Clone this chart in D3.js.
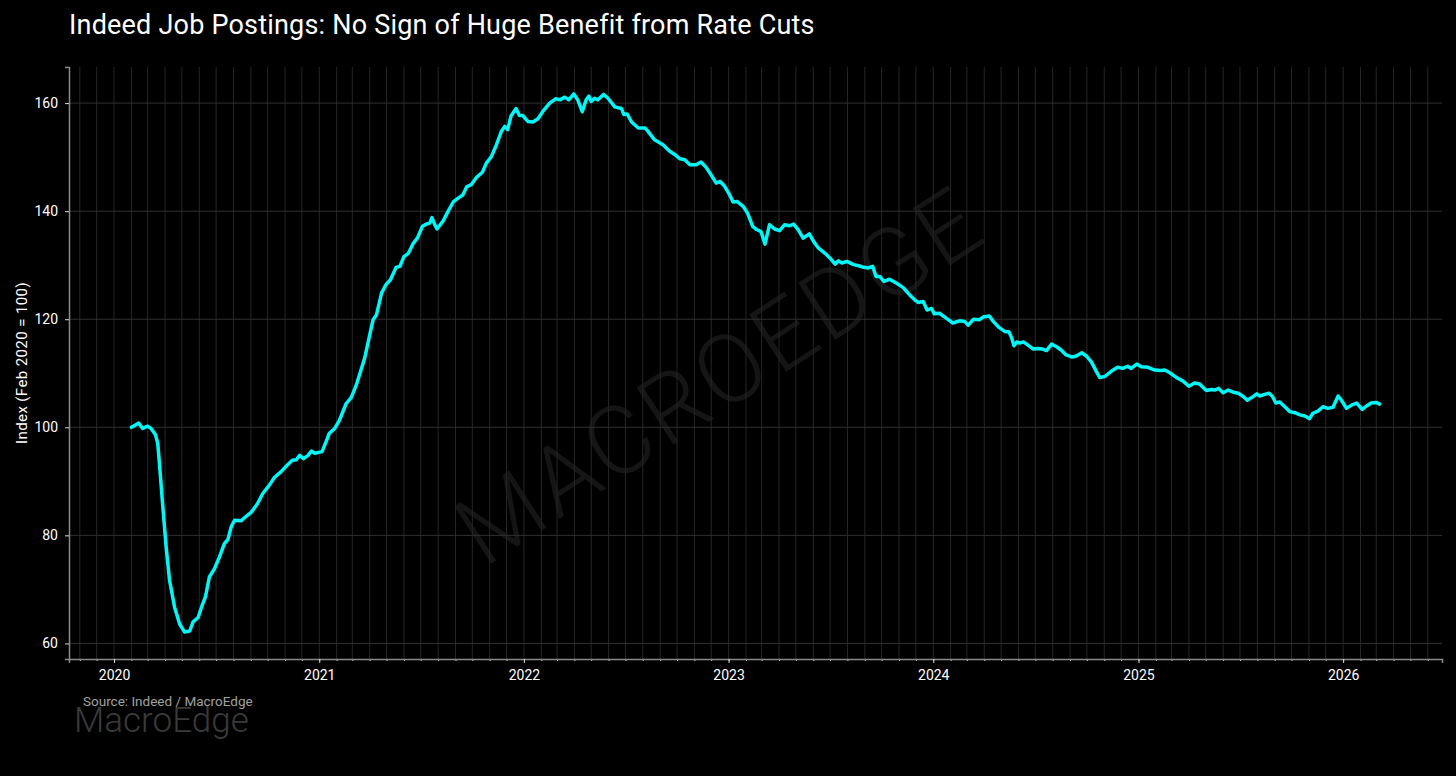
<!DOCTYPE html>
<html>
<head>
<meta charset="utf-8">
<script src="https://cdn.jsdelivr.net/npm/d3@7"></script>
<style>
  body { margin: 0; background: #000; }
  svg { display: block; }
  text { font-family: Roboto, "Open Sans", sans-serif; }
</style>
</head>
<body>
<div id="chart"></div>
<script>
// Indeed job postings index (Feb 2020 = 100)
const dates2020 = ["2020-02-01","2020-02-08","2020-02-14","2020-02-21","2020-03-01","2020-03-07","2020-03-15","2020-03-19","2020-03-22","2020-03-28","2020-04-03","2020-04-09","2020-04-18","2020-04-27","2020-05-06","2020-05-15","2020-05-21","2020-05-30","2020-06-05","2020-06-12","2020-06-19","2020-06-28","2020-07-07","2020-07-16","2020-07-22","2020-07-28","2020-08-03","2020-08-15","2020-08-21","2020-09-02","2020-09-13","2020-09-22","2020-10-04","2020-10-13","2020-10-25","2020-11-03","2020-11-14","2020-11-21","2020-11-27","2020-12-04","2020-12-12","2020-12-18","2020-12-24"];
const index2020 = [100.0,100.4,100.8,99.8,100.2,99.8,98.6,97.0,93.3,85.3,77.8,71.7,66.7,63.6,62.1,62.3,64.0,64.8,66.7,68.6,72.3,73.8,76.0,78.5,79.2,81.6,82.8,82.7,83.3,84.3,85.9,87.7,89.3,90.7,91.8,92.8,93.9,94.0,94.8,94.2,94.8,95.6,95.2];

const dates2021 = ["2021-01-06","2021-01-13","2021-01-19","2021-01-28","2021-02-06","2021-02-18","2021-02-27","2021-03-08","2021-03-23","2021-04-01","2021-04-07","2021-04-13","2021-04-22","2021-04-30","2021-05-08","2021-05-18","2021-05-25","2021-06-01","2021-06-09","2021-06-18","2021-06-25","2021-07-04","2021-07-11","2021-07-17","2021-07-21","2021-07-26","2021-07-30","2021-08-10","2021-08-19","2021-08-28","2021-09-07","2021-09-14","2021-09-21","2021-09-29","2021-10-08","2021-10-19","2021-10-26","2021-11-04","2021-11-13","2021-11-22","2021-11-28","2021-12-03","2021-12-09","2021-12-18","2021-12-24","2021-12-30"];
const index2021 = [95.5,97.3,98.9,99.7,101.3,104.4,105.5,107.8,112.8,117.1,119.9,120.8,124.8,126.4,127.3,129.6,129.8,131.6,132.2,134.1,135.0,137.2,137.6,137.8,138.8,137.5,136.7,138.2,140.0,141.7,142.5,143.0,144.5,144.9,146.2,147.2,148.9,150.1,152.3,154.8,155.7,155.1,157.6,159.0,157.7,157.7];

const dates2022 = ["2022-01-08","2022-01-17","2022-01-26","2022-02-04","2022-02-16","2022-02-27","2022-03-06","2022-03-15","2022-03-22","2022-03-31","2022-04-07","2022-04-15","2022-04-22","2022-04-27","2022-05-01","2022-05-07","2022-05-13","2022-05-23","2022-05-31","2022-06-12","2022-06-24","2022-06-28","2022-07-04","2022-07-12","2022-07-24","2022-08-05","2022-08-10","2022-08-22","2022-09-06","2022-09-18","2022-09-27","2022-10-06","2022-10-15","2022-10-24","2022-11-04","2022-11-13","2022-11-22","2022-12-01","2022-12-10","2022-12-17","2022-12-25"];
const index2022 = [156.6,156.5,157.1,158.5,160.0,160.8,160.6,161.1,160.6,161.7,160.6,158.4,160.6,161.3,160.3,160.9,160.6,161.6,160.9,159.3,159.0,157.9,158.0,156.5,155.4,155.4,154.8,153.2,152.3,151.1,150.5,149.7,149.5,148.6,148.6,149.1,148.1,146.7,145.2,145.5,144.6];

const dates2023 = ["2023-01-03","2023-01-09","2023-01-16","2023-01-27","2023-02-04","2023-02-13","2023-02-20","2023-02-28","2023-03-07","2023-03-15","2023-03-24","2023-04-02","2023-04-11","2023-04-20","2023-04-27","2023-05-05","2023-05-14","2023-05-25","2023-06-01","2023-06-10","2023-06-22","2023-07-01","2023-07-10","2023-07-16","2023-07-22","2023-07-31","2023-08-12","2023-08-21","2023-08-30","2023-09-07","2023-09-15","2023-09-21","2023-09-28","2023-10-05","2023-10-15","2023-10-27","2023-11-08","2023-11-20","2023-11-29","2023-12-05","2023-12-14","2023-12-21","2023-12-29"];
const index2023 = [143.0,141.7,141.8,140.9,139.6,137.2,136.6,136.2,133.9,137.5,136.7,136.4,137.5,137.3,137.6,136.6,135.0,135.8,134.5,133.2,132.2,131.3,130.2,130.8,130.4,130.7,130.1,129.9,129.6,129.5,129.8,127.9,127.9,127.0,127.4,126.7,125.9,124.5,123.6,123.1,123.3,121.7,122.0];

const dates2024 = ["2024-01-03","2024-01-12","2024-01-24","2024-02-05","2024-02-17","2024-02-26","2024-03-03","2024-03-13","2024-03-23","2024-03-30","2024-04-10","2024-04-17","2024-04-26","2024-05-08","2024-05-15","2024-05-20","2024-05-24","2024-05-29","2024-06-03","2024-06-10","2024-06-18","2024-06-27","2024-07-06","2024-07-13","2024-07-21","2024-07-30","2024-08-08","2024-08-16","2024-08-25","2024-09-05","2024-09-12","2024-09-22","2024-09-30","2024-10-09","2024-10-18","2024-10-24","2024-11-02","2024-11-14","2024-11-25","2024-12-04","2024-12-13","2024-12-19","2024-12-29"];
const index2024 = [121.0,121.1,120.2,119.3,119.7,119.6,118.9,120.0,119.9,120.4,120.6,119.6,118.6,117.7,117.7,116.5,115.1,115.8,115.6,115.8,115.2,114.5,114.6,114.5,114.2,115.4,114.9,114.3,113.4,113.0,113.2,113.8,113.2,112.1,110.3,109.2,109.4,110.4,111.1,110.9,111.3,110.9,111.7];

const dates2025 = ["2025-01-06","2025-01-18","2025-01-30","2025-02-11","2025-02-17","2025-02-26","2025-03-10","2025-03-21","2025-04-01","2025-04-11","2025-04-20","2025-05-02","2025-05-11","2025-05-17","2025-05-24","2025-06-01","2025-06-10","2025-06-19","2025-06-28","2025-07-07","2025-07-14","2025-07-22","2025-07-31","2025-08-05","2025-08-14","2025-08-22","2025-08-28","2025-09-03","2025-09-10","2025-09-19","2025-09-28","2025-10-07","2025-10-16","2025-10-25","2025-11-02","2025-11-08","2025-11-17","2025-11-26","2025-12-05","2025-12-14","2025-12-23","2025-12-29"];
const index2025 = [111.2,111.1,110.6,110.5,110.6,110.1,109.2,108.6,107.6,108.2,108.0,106.8,107.0,106.9,107.2,106.4,106.9,106.5,106.3,105.7,105.0,105.5,106.2,105.8,106.1,106.3,105.7,104.5,104.7,103.8,102.9,102.7,102.3,102.1,101.6,102.6,103.0,103.8,103.5,103.7,105.8,105.0];

const dates2026 = ["2026-01-07","2026-01-16","2026-01-25","2026-02-04","2026-02-11","2026-02-20","2026-03-01","2026-03-07"];
const index2026 = [103.5,104.1,104.5,103.3,103.9,104.5,104.6,104.3];

const yTicks = [60, 80, 100, 120, 140, 160];

const title = "Indeed Job Postings: No Sign of Huge Benefit from Rate Cuts";
const yLabel = "Index (Feb 2020 = 100)";
const source = "Source: Indeed / MacroEdge";

const allDates = [].concat(dates2020, dates2021, dates2022, dates2023, dates2024, dates2025, dates2026);
const allValues = [].concat(index2020, index2021, index2022, index2023, index2024, index2025, index2026);
const parse = d3.utcParse("%Y-%m-%d");
const data = allDates.map((d, i) => ({ date: parse(d), value: allValues[i] }));

const width = 1456, height = 776;
const margin = { top: 67, right: 14, bottom: 117, left: 69 };

const svg = d3.select("#chart").append("svg")
  .attr("width", width)
  .attr("height", height)
  .style("background", "#000");

// matplotlib-style 5% padding on both axes
const [x0, x1] = d3.extent(data, d => d.date);
const xPad = (x1 - x0) * 0.05;
const x = d3.scaleUtc()
  .domain([new Date(+x0 - xPad), new Date(+x1 + xPad)])
  .range([margin.left, width - margin.right]);

const [y0, y1] = d3.extent(data, d => d.value);
const yPad = (y1 - y0) * 0.05;
const y = d3.scaleLinear()
  .domain([y0 - yPad, y1 + yPad])
  .range([height - margin.bottom, margin.top]);

const plotBottom = height - margin.bottom;

// watermark
svg.append("text")
  .attr("transform", "translate(724,382) rotate(-33)")
  .attr("text-anchor", "middle")
  .attr("dominant-baseline", "middle")
  .attr("font-size", 96)
  .attr("font-weight", 300)
  .attr("letter-spacing", 4)
  .attr("fill", "#151515")
  .text("MACROEDGE");

// grid
const months = x.ticks(d3.utcMonth.every(1));
svg.append("g")
  .selectAll("line")
  .data(months)
  .join("line")
  .attr("x1", d => x(d)).attr("x2", d => x(d))
  .attr("y1", margin.top).attr("y2", plotBottom)
  .attr("stroke", "#262626")
  .attr("stroke-width", 1);

svg.append("g")
  .selectAll("line")
  .data(yTicks)
  .join("line")
  .attr("x1", margin.left).attr("x2", width - margin.right)
  .attr("y1", d => y(d)).attr("y2", d => y(d))
  .attr("stroke", "#303030")
  .attr("stroke-width", 1);

// axes
const xMinor = d3.axisBottom(x)
  .ticks(d3.utcMonth.every(1))
  .tickSize(2)
  .tickFormat("");
const xMajor = d3.axisBottom(x)
  .ticks(d3.utcYear.every(1))
  .tickSize(4)
  .tickPadding(7)
  .tickFormat(d3.utcFormat("%Y"));
const yAxis = d3.axisLeft(y)
  .tickValues(yTicks)
  .tickSize(4)
  .tickPadding(7);

svg.append("g")
  .attr("transform", `translate(0,${plotBottom})`)
  .call(xMinor)
  .call(g => g.select(".domain").remove())
  .call(g => g.selectAll(".tick line").attr("stroke", "#ddd"));

svg.append("g")
  .attr("transform", `translate(0,${plotBottom})`)
  .call(xMajor)
  .call(g => g.select(".domain").attr("stroke", "#8a8a8a").attr("stroke-width", 1.5))
  .call(g => g.selectAll(".tick line").attr("stroke", "#ddd"))
  .call(g => g.selectAll(".tick text").attr("fill", "#fff").attr("font-size", 14));

svg.append("g")
  .attr("transform", `translate(${margin.left},0)`)
  .call(yAxis)
  .call(g => g.select(".domain").attr("stroke", "#8a8a8a").attr("stroke-width", 1.5))
  .call(g => g.selectAll(".tick line").attr("stroke", "#ddd"))
  .call(g => g.selectAll(".tick text").attr("fill", "#fff").attr("font-size", 14));

// series
const line = d3.line()
  .x(d => x(d.date))
  .y(d => y(d.value));

svg.append("path")
  .datum(data)
  .attr("fill", "none")
  .attr("stroke", "#00f7f7")
  .attr("stroke-width", 3.5)
  .attr("stroke-linejoin", "round")
  .attr("stroke-linecap", "round")
  .attr("d", line);

// texts
svg.append("text")
  .attr("x", 69)
  .attr("y", 34)
  .attr("fill", "#fff")
  .attr("font-size", 27)
  .attr("letter-spacing", 0.2)
  .text(title);

svg.append("text")
  .attr("transform", `translate(27,${(margin.top + plotBottom) / 2}) rotate(-90)`)
  .attr("text-anchor", "middle")
  .attr("fill", "#fff")
  .attr("font-size", 15)
  .attr("letter-spacing", 0.4)
  .text(yLabel);

svg.append("text")
  .attr("x", 74)
  .attr("y", 732)
  .attr("fill", "#3a3a3a")
  .attr("font-size", 35)
  .attr("font-weight", 300)
  .text("MacroEdge");

svg.append("text")
  .attr("x", 83)
  .attr("y", 706)
  .attr("fill", "#a0a0a0")
  .attr("font-size", 13.5)
  .text(source);
</script>
</body>
</html>
